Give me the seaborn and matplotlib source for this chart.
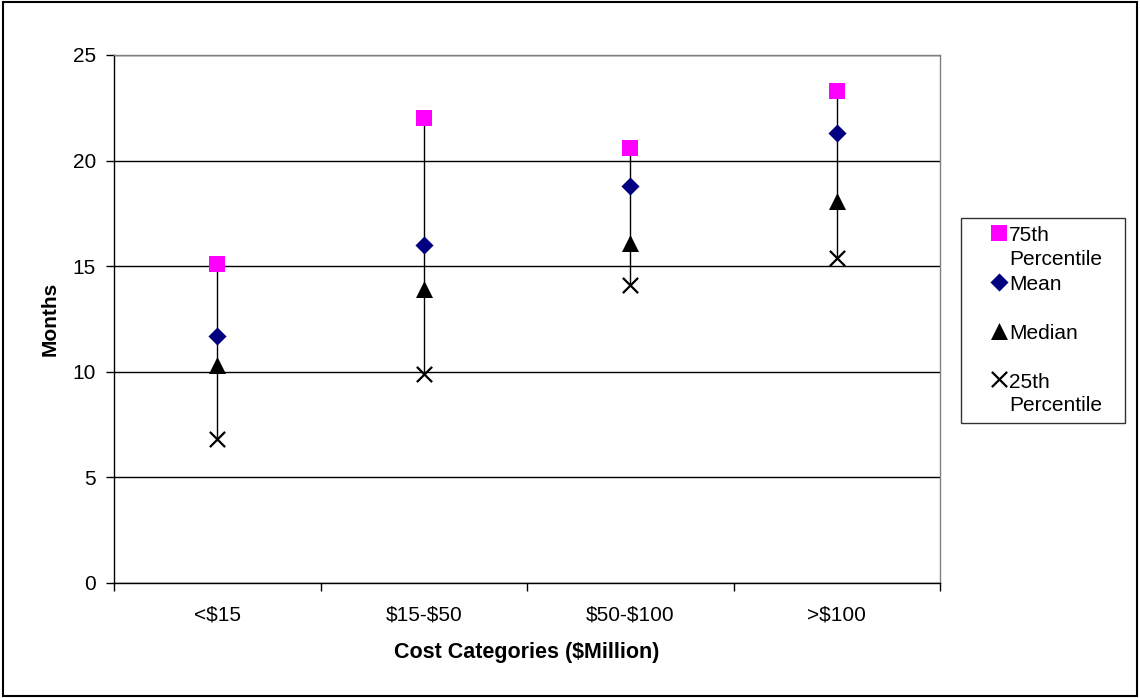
import numpy as np
import pandas as pd
import matplotlib
matplotlib.use("Agg")
import matplotlib.pyplot as plt
import seaborn as sns
from matplotlib.patches import Rectangle
from matplotlib.legend_handler import HandlerPathCollection

categories = ["<$15", "$15-$50", "$50-$100", ">$100"]
p75 = [15.1, 22.0, 20.6, 23.3]
mean = [11.7, 16.0, 18.8, 21.3]
median = [10.3, 13.9, 16.1, 18.1]
p25 = [6.8, 9.9, 14.1, 15.4]

series = ["75th\nPercentile", "Mean\n", "Median\n", "25th\nPercentile"]
markers = dict(zip(series, ["s", "D", "^", "x"]))
colors = dict(zip(series, ["#FF00FF", "#000080", "black", "black"]))
sizes = dict(zip(series, [140, 85, 150, 120]))

pos = np.arange(len(categories))
df = pd.DataFrame({
    "pos": np.tile(pos, 4),
    "value": p75 + mean + median + p25,
    "series": np.repeat(series, len(categories)),
})

sns.set_style("white")
plt.rcParams["font.family"] = ["Liberation Sans", "DejaVu Sans"]
plt.rcParams["text.parse_math"] = False
plt.rcParams["text.color"] = "black"
plt.rcParams["axes.labelcolor"] = "black"
plt.rcParams["xtick.color"] = "black"
plt.rcParams["ytick.color"] = "black"
FS = 15

fig = plt.figure(figsize=(11.4, 6.98), dpi=100)
ax = fig.add_axes([114 / 1140, 1 - 583 / 698, (940 - 114) / 1140, (583 - 55) / 698])

# high-low lines
ax.vlines(pos, p25, p75, color="black", lw=1, zorder=2)

for s in series:
    sub = df[df["series"] == s]
    sns.scatterplot(data=sub, x="pos", y="value", marker=markers[s], color=colors[s],
                    s=sizes[s], linewidth=1.6 if markers[s] == "x" else 0,
                    edgecolor=colors[s], label=s, ax=ax, zorder=3)

ax.set_xlim(-0.5, len(categories) - 0.5)
ax.set_ylim(0, 25)
ax.set_yticks(range(0, 26, 5))
ax.set_yticklabels([str(v) for v in range(0, 26, 5)], fontsize=FS)
ax.set_xticks(np.arange(-0.5, len(categories), 1.0))
ax.set_xticklabels([])
ax.set_xticks(pos, minor=True)
ax.set_xticklabels(categories, minor=True, fontsize=FS)
ax.tick_params(axis="x", which="minor", length=0, pad=16)
ax.tick_params(axis="x", which="major", direction="out", length=6, width=1, color="black", bottom=True)
ax.tick_params(axis="y", direction="out", length=6, width=1, color="black", left=True, pad=7)

ax.grid(axis="y", color="black", lw=1)
ax.grid(axis="x", visible=False)
ax.set_axisbelow(True)
for side in ["left", "bottom"]:
    ax.spines[side].set_color("black")
    ax.spines[side].set_linewidth(1)
for side in ["top", "right"]:
    ax.spines[side].set_color("#808080")
    ax.spines[side].set_linewidth(1)

ax.set_xlabel("Cost Categories ($Million)", fontsize=FS + 0.5, fontweight="bold", labelpad=13)
ax.set_ylabel("Months", fontsize=FS, fontweight="bold", labelpad=9)

handles, labels = ax.get_legend_handles_labels()
leg = ax.legend(handles, labels, loc="upper left",
                bbox_to_anchor=(961 / 1140, 1 - 421 / 698, 164 / 1140, 203 / 698),
                bbox_transform=fig.transFigure, mode="expand", frameon=True, fancybox=False,
                fontsize=FS, handlelength=2.8, handletextpad=-0.9, labelspacing=0.3,
                borderpad=0.4, borderaxespad=0,
                handler_map={h: HandlerPathCollection(yoffsets=[1.5]) for h in handles})
for t in leg.get_texts():
    t.set_linespacing(1.3)
leg.get_frame().set_edgecolor("black")
leg.get_frame().set_linewidth(1)

fig.patches.append(Rectangle((0.003, 0.003), 0.994, 0.994, transform=fig.transFigure,
                             fill=False, edgecolor="black", lw=1.5))

fig.savefig("out.png", dpi=100)
